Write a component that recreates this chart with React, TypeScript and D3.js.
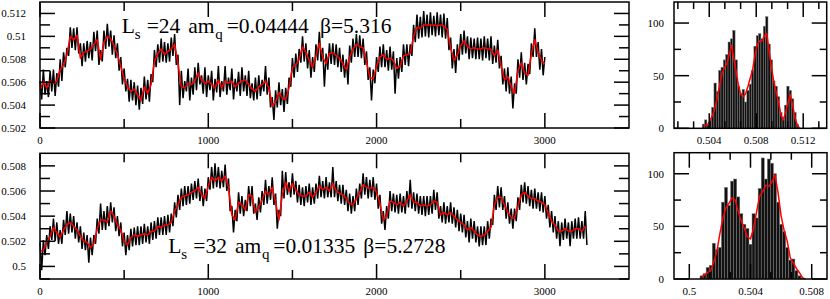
import React from "react";
import * as d3 from "d3";

// ---------- data ----------
// top run: Ls=24, Monte Carlo time step 10 (black) / 20 (red running average)
const topBlack = [
0.5061,0.5045,0.5071,0.5049,0.5061,0.5047,0.5070,0.5052,0.5071,0.5048,
0.5068,0.5056,0.5080,0.5061,0.5086,0.5073,0.5090,0.5083,0.5108,0.5090,
0.5107,0.5088,0.5108,0.5085,0.5094,0.5074,0.5094,0.5078,0.5096,0.5081,
0.5095,0.5079,0.5104,0.5087,0.5105,0.5075,0.5088,0.5078,0.5105,0.5089,
0.5111,0.5091,0.5105,0.5084,0.5101,0.5081,0.5094,0.5070,0.5082,0.5058,
0.5072,0.5052,0.5063,0.5043,0.5062,0.5044,0.5060,0.5040,0.5057,0.5036,
0.5055,0.5041,0.5065,0.5045,0.5062,0.5043,0.5067,0.5060,0.5088,0.5073,
0.5093,0.5077,0.5098,0.5078,0.5095,0.5077,0.5094,0.5078,0.5099,0.5083,
0.5102,0.5075,0.5084,0.5040,0.5070,0.5046,0.5061,0.5052,0.5072,0.5044,
0.5064,0.5049,0.5073,0.5053,0.5077,0.5058,0.5066,0.5050,0.5073,0.5047,
0.5066,0.5053,0.5070,0.5044,0.5063,0.5051,0.5074,0.5047,0.5061,0.5052,
0.5074,0.5049,0.5064,0.5053,0.5072,0.5045,0.5063,0.5052,0.5069,0.5048,
0.5073,0.5052,0.5066,0.5048,0.5070,0.5046,0.5059,0.5044,0.5064,0.5045,
0.5066,0.5048,0.5062,0.5052,0.5074,0.5049,0.5064,0.5038,0.5047,0.5027,
0.5053,0.5038,0.5060,0.5040,0.5054,0.5034,0.5055,0.5041,0.5064,0.5056,
0.5081,0.5064,0.5085,0.5069,0.5089,0.5077,0.5100,0.5078,0.5094,0.5072,
0.5088,0.5064,0.5082,0.5069,0.5093,0.5079,0.5104,0.5078,0.5090,0.5056,
0.5085,0.5071,0.5094,0.5076,0.5094,0.5075,0.5093,0.5073,0.5090,0.5069,
0.5084,0.5064,0.5080,0.5058,0.5092,0.5077,0.5098,0.5082,0.5102,0.5082,
0.5101,0.5081,0.5098,0.5075,0.5087,0.5062,0.5073,0.5044,0.5071,0.5059,
0.5082,0.5069,0.5091,0.5073,0.5093,0.5073,0.5088,0.5070,0.5091,0.5071,
0.5087,0.5050,0.5081,0.5063,0.5082,0.5069,0.5093,0.5075,0.5093,0.5074,
0.5093,0.5083,0.5110,0.5095,0.5119,0.5098,0.5117,0.5099,0.5122,0.5100,
0.5119,0.5099,0.5121,0.5101,0.5118,0.5100,0.5121,0.5101,0.5119,0.5099,
0.5120,0.5098,0.5116,0.5088,0.5099,0.5072,0.5089,0.5068,0.5093,0.5079,
0.5102,0.5084,0.5105,0.5085,0.5100,0.5080,0.5099,0.5081,0.5098,0.5080,
0.5099,0.5080,0.5098,0.5079,0.5100,0.5081,0.5098,0.5079,0.5100,0.5076,
0.5092,0.5077,0.5097,0.5072,0.5083,0.5058,0.5072,0.5052,0.5073,0.5050,
0.5065,0.5037,0.5059,0.5050,0.5080,0.5064,0.5086,0.5062,0.5077,0.5058,
0.5076,0.5067,0.5094,0.5082,0.5107,0.5082,0.5095,0.5071,0.5089,0.5066,
0.5082,
];
const topRed = [
0.5053,0.5061,0.5055,0.5061,0.5059,0.5061,0.5071,0.5075,0.5084,0.5100,
0.5097,0.5101,0.5081,0.5086,0.5087,0.5089,0.5093,0.5097,0.5080,0.5095,
0.5100,0.5098,0.5092,0.5084,0.5074,0.5063,0.5056,0.5052,0.5054,0.5049,
0.5044,0.5056,0.5050,0.5058,0.5078,0.5085,0.5089,0.5084,0.5087,0.5089,
0.5093,0.5076,0.5056,0.5055,0.5059,0.5058,0.5061,0.5068,0.5062,0.5059,
0.5061,0.5058,0.5055,0.5062,0.5055,0.5061,0.5059,0.5061,0.5056,0.5059,
0.5061,0.5062,0.5058,0.5054,0.5052,0.5056,0.5058,0.5061,0.5055,0.5039,
0.5043,0.5051,0.5046,0.5045,0.5055,0.5073,0.5075,0.5080,0.5091,0.5086,
0.5079,0.5073,0.5083,0.5094,0.5082,0.5076,0.5085,0.5086,0.5083,0.5081,
0.5076,0.5071,0.5082,0.5089,0.5093,0.5091,0.5090,0.5078,0.5064,0.5063,
0.5074,0.5082,0.5084,0.5080,0.5081,0.5079,0.5072,0.5074,0.5083,0.5084,
0.5085,0.5100,0.5108,0.5107,0.5110,0.5110,0.5110,0.5110,0.5109,0.5110,
0.5109,0.5106,0.5090,0.5079,0.5084,0.5092,0.5096,0.5091,0.5089,0.5090,
0.5089,0.5089,0.5090,0.5089,0.5089,0.5083,0.5088,0.5074,0.5062,0.5065,
0.5056,0.5050,0.5070,0.5077,0.5068,0.5066,0.5085,0.5097,0.5086,0.5079,
0.5076,
];

// bottom run: Ls=32
const botBlack = [
0.5019,0.4997,0.5021,0.5009,0.5025,0.5014,0.5032,0.5021,0.5038,0.5020,
0.5035,0.5018,0.5029,0.5018,0.5037,0.5025,0.5044,0.5026,0.5042,0.5027,
0.5040,0.5022,0.5035,0.5019,0.5032,0.5014,0.5027,0.5013,0.5025,0.5003,
0.5023,0.5009,0.5025,0.5018,0.5038,0.5026,0.5050,0.5029,0.5044,0.5029,
0.5048,0.5032,0.5051,0.5035,0.5047,0.5028,0.5040,0.5024,0.5035,0.5016,
0.5027,0.5009,0.5025,0.5013,0.5030,0.5016,0.5031,0.5017,0.5032,0.5017,
0.5032,0.5018,0.5034,0.5019,0.5032,0.5018,0.5035,0.5021,0.5036,0.5022,
0.5039,0.5025,0.5039,0.5025,0.5040,0.5025,0.5041,0.5027,0.5042,0.5032,
0.5051,0.5039,0.5057,0.5045,0.5062,0.5048,0.5064,0.5049,0.5064,0.5050,
0.5066,0.5053,0.5068,0.5054,0.5070,0.5052,0.5064,0.5048,0.5062,0.5052,
0.5071,0.5061,0.5079,0.5062,0.5082,0.5063,0.5079,0.5062,0.5076,0.5063,
0.5081,0.5060,0.5070,0.5044,0.5048,0.5027,0.5045,0.5036,0.5059,0.5042,
0.5056,0.5040,0.5053,0.5044,0.5064,0.5048,0.5064,0.5042,0.5050,0.5037,
0.5055,0.5043,0.5060,0.5049,0.5069,0.5050,0.5064,0.5053,0.5071,0.5049,
0.5058,0.5030,0.5045,0.5040,0.5076,0.5054,0.5075,0.5057,0.5067,0.5055,
0.5074,0.5057,0.5068,0.5051,0.5065,0.5049,0.5063,0.5048,0.5064,0.5051,
0.5066,0.5049,0.5063,0.5050,0.5066,0.5054,0.5072,0.5055,0.5068,0.5054,
0.5071,0.5055,0.5067,0.5055,0.5079,0.5055,0.5068,0.5052,0.5065,0.5050,
0.5065,0.5049,0.5061,0.5044,0.5058,0.5042,0.5056,0.5044,0.5062,0.5049,
0.5066,0.5054,0.5074,0.5057,0.5071,0.5054,0.5069,0.5055,0.5071,0.5053,
0.5066,0.5046,0.5057,0.5034,0.5044,0.5029,0.5048,0.5038,0.5060,0.5044,
0.5058,0.5043,0.5057,0.5042,0.5058,0.5043,0.5056,0.5042,0.5060,0.5047,
0.5069,0.5046,0.5059,0.5044,0.5058,0.5042,0.5056,0.5041,0.5056,0.5040,
0.5056,0.5041,0.5056,0.5042,0.5061,0.5045,0.5059,0.5038,0.5048,0.5035,
0.5051,0.5034,0.5048,0.5035,0.5051,0.5034,0.5047,0.5031,0.5045,0.5028,
0.5042,0.5027,0.5041,0.5023,0.5036,0.5019,0.5038,0.5022,0.5036,0.5019,
0.5032,0.5016,0.5032,0.5017,0.5032,0.5017,0.5036,0.5022,0.5038,0.5033,
0.5057,0.5045,0.5064,0.5047,0.5063,0.5045,0.5056,0.5038,0.5051,0.5034,
0.5046,0.5030,0.5046,0.5036,0.5055,0.5045,0.5065,0.5051,0.5067,0.5050,
0.5064,0.5048,0.5061,0.5046,0.5062,0.5046,0.5059,0.5044,0.5059,0.5043,
0.5056,0.5038,0.5049,0.5031,0.5044,0.5027,0.5040,0.5022,0.5036,0.5016,
0.5035,0.5021,0.5038,0.5022,0.5035,0.5016,0.5036,0.5022,0.5038,0.5022,
0.5039,0.5022,0.5036,0.5022,0.5044,0.5017,
];
const botRed = [
0.5012,0.5013,0.5019,0.5024,0.5031,0.5027,0.5023,0.5029,0.5033,0.5035,
0.5032,0.5029,0.5024,0.5020,0.5019,0.5015,0.5018,0.5030,0.5037,0.5037,
0.5035,0.5044,0.5040,0.5033,0.5029,0.5020,0.5017,0.5023,0.5025,0.5024,
0.5025,0.5026,0.5025,0.5028,0.5028,0.5032,0.5031,0.5033,0.5033,0.5035,
0.5044,0.5049,0.5055,0.5056,0.5057,0.5059,0.5060,0.5063,0.5057,0.5054,
0.5064,0.5071,0.5068,0.5071,0.5068,0.5072,0.5063,0.5041,0.5037,0.5051,
0.5049,0.5045,0.5057,0.5056,0.5043,0.5047,0.5053,0.5060,0.5057,0.5063,
0.5051,0.5037,0.5057,0.5067,0.5060,0.5066,0.5061,0.5057,0.5056,0.5056,
0.5059,0.5055,0.5059,0.5064,0.5061,0.5063,0.5060,0.5066,0.5060,0.5058,
0.5057,0.5054,0.5050,0.5049,0.5054,0.5059,0.5065,0.5063,0.5062,0.5063,
0.5059,0.5050,0.5037,0.5040,0.5052,0.5051,0.5049,0.5051,0.5048,0.5052,
0.5057,0.5051,0.5051,0.5048,0.5049,0.5048,0.5049,0.5052,0.5051,0.5041,
0.5043,0.5041,0.5043,0.5040,0.5037,0.5035,0.5033,0.5029,0.5031,0.5028,
0.5025,0.5024,0.5025,0.5028,0.5031,0.5049,0.5055,0.5055,0.5049,0.5043,
0.5039,0.5038,0.5048,0.5057,0.5059,0.5056,0.5054,0.5054,0.5052,0.5051,
0.5049,0.5042,0.5036,0.5033,0.5028,0.5028,0.5030,0.5028,0.5028,0.5030,
0.5030,0.5028,0.5032,
];
const blackStep = 10;
const redStep = 20;

// histograms (bin width 0.0002)
const binWidth = 0.0002;
const topHistFirstCenter = 0.5035;
const topHistCounts = [4,8,3,9,20,43,35,55,58,65,70,82,85,93,65,40,33,37,25,36,42,55,78,88,90,85,97,106,80,65,45,40,30,15,8,22,40,36,28,15,4];
const topHistFit = [2,3,4,8,13,20,30,42,52,58,61,70,79,66,53,40,32,30,33,40,48,56,70,80,83,83,88,90,73,58,44,34,25,13,8,15,24,32,22,10,3,0];
const botHistFirstCenter = 0.5008;
const botHistCounts = [3,5,11,13,34,28,30,73,87,70,93,95,78,62,52,48,33,62,58,86,115,95,114,110,100,73,52,45,30,18,19,8,3,1];
const botHistFit = [2,4,6,8,16,26,43,58,68,72,77,75,64,55,48,40,38,48,64,79,83,89,88,92,99,82,60,46,36,20,15,10,6,1,0];

// axis ticks
const tsXMajor = [0, 1000, 2000, 3000];
const tsXMinor = [500, 1500, 2500];
const topYMajor = [0.502, 0.504, 0.506, 0.508, 0.51, 0.512];
const topYMinor = [0.503, 0.505, 0.507, 0.509, 0.511];
const botYMajor = [0.5, 0.502, 0.504, 0.506, 0.508];
const botYMinor = [0.499, 0.501, 0.503, 0.505, 0.507];
const histYMajor = [0, 50, 100];
const histYMinor = [25, 75];
const topHistXMajor = [0.504, 0.508, 0.512];
const topHistXMinor = [0.50133, 0.50267, 0.50533, 0.50667, 0.50933, 0.51067, 0.51333];
const botHistXMajor = [0.5, 0.504, 0.508];
const botHistXMinor = [0.50133, 0.50267, 0.50533, 0.50667];

const FONT = "Liberation Serif, Times New Roman, Times, serif";
const fmt = (v: number) => String(+v.toFixed(4));

type Sc = d3.ScaleLinear<number, number>;

function Frame(props: {
  x: Sc; y: Sc;
  xMajor: number[]; xMinor: number[]; yMajor: number[]; yMinor: number[];
  xMajLen: number; xMinLen: number; yMajLen: number; yMinLen: number;
  yLabGap: number;
}) {
  const { x, y } = props;
  const [x0, x1] = x.range();
  const [yb, yt] = y.range();
  const els: React.ReactNode[] = [];
  const tstyle = { fontFamily: FONT, fontSize: 11 };
  props.xMajor.forEach((v, i) => {
    const px = x(v);
    els.push(<line key={"xM" + i} x1={px} x2={px} y1={yb} y2={yb - props.xMajLen} />);
    els.push(<line key={"xMt" + i} x1={px} x2={px} y1={yt} y2={yt + props.xMajLen} />);
    els.push(
      <text key={"xl" + i} x={px} y={yb + 16} textAnchor="middle" style={tstyle} stroke="none" fill="#000">
        {fmt(v)}
      </text>
    );
  });
  props.xMinor.forEach((v, i) => {
    const px = x(v);
    els.push(<line key={"xm" + i} x1={px} x2={px} y1={yb} y2={yb - props.xMinLen} />);
    els.push(<line key={"xmt" + i} x1={px} x2={px} y1={yt} y2={yt + props.xMinLen} />);
  });
  props.yMajor.forEach((v, i) => {
    const py = y(v);
    els.push(<line key={"yM" + i} x1={x0} x2={x0 + props.yMajLen} y1={py} y2={py} />);
    els.push(<line key={"yMr" + i} x1={x1} x2={x1 - props.yMajLen} y1={py} y2={py} />);
    els.push(
      <text key={"yl" + i} x={x0 - props.yLabGap} y={py + 4} textAnchor="end" style={tstyle} stroke="none" fill="#000">
        {fmt(v)}
      </text>
    );
  });
  props.yMinor.forEach((v, i) => {
    const py = y(v);
    els.push(<line key={"ym" + i} x1={x0} x2={x0 + props.yMinLen} y1={py} y2={py} />);
    els.push(<line key={"ymr" + i} x1={x1} x2={x1 - props.yMinLen} y1={py} y2={py} />);
  });
  return (
    <g stroke="#000" strokeWidth={1.5} fill="none">
      {els}
      <rect x={x0} y={yt} width={x1 - x0} height={yb - yt} />
    </g>
  );
}

function TimePanel(props: { x: Sc; y: Sc; black: number[]; red: number[]; yMajor: number[]; yMinor: number[] }) {
  const { x, y } = props;
  const lb = d3.line<number>().x((_, i) => x(i * blackStep)).y((d) => y(d));
  const lr = d3.line<number>().x((_, i) => x(i * redStep)).y((d) => y(d));
  return (
    <g>
      <path d={lb(props.black) || ""} fill="none" stroke="#000" strokeWidth={1.5} strokeLinejoin="miter" />
      <path d={lr(props.red) || ""} fill="none" stroke="#ff0000" strokeWidth={1.5} strokeLinejoin="round" />
      <Frame x={x} y={y} xMajor={tsXMajor} xMinor={tsXMinor} yMajor={props.yMajor} yMinor={props.yMinor}
        xMajLen={15} xMinLen={9} yMajLen={15} yMinLen={10} yLabGap={14} />
    </g>
  );
}

function HistPanel(props: { x: Sc; y: Sc; first: number; counts: number[]; fit: number[]; xMajor: number[]; xMinor: number[] }) {
  const { x, y } = props;
  const centers = props.counts.map((_, i) => props.first + i * binWidth);
  const lf = d3.line<number>().x((_, i) => x(props.first + i * binWidth)).y((d) => y(d));
  return (
    <g>
      {props.counts.map((c, i) => {
        const a = x(centers[i] - binWidth / 2);
        const b = x(centers[i] + binWidth / 2);
        return <rect key={i} x={a} y={y(c)} width={b - a} height={y(0) - y(c)} fill="#111" stroke="#7a7a7a" strokeWidth={0.5} />;
      })}
      <path d={lf(props.fit) || ""} fill="none" stroke="#ff0000" strokeWidth={1.5} strokeLinejoin="round" />
      <Frame x={x} y={y} xMajor={props.xMajor} xMinor={props.xMinor} yMajor={histYMajor} yMinor={histYMinor}
        xMajLen={15} xMinLen={7} yMajLen={15} yMinLen={7} yLabGap={10} />
    </g>
  );
}

function Label(props: { xs: number[]; y: number; ls: string; amq: string; beta: string }) {
  const st = { fontFamily: FONT, fontSize: 21.5 };
  const sub = { fontFamily: FONT, fontSize: 15 };
  return (
    <g fill="#000">
      <text x={props.xs[0]} y={props.y} style={st}>L</text>
      <text x={props.xs[0] + 13} y={props.y + 6} style={sub}>s</text>
      <text x={props.xs[1]} y={props.y} style={st}>={props.ls}</text>
      <text x={props.xs[2]} y={props.y} style={st}>am</text>
      <text x={props.xs[2] + 27} y={props.y + 6} style={sub}>q</text>
      <text x={props.xs[3]} y={props.y} style={st}>={props.amq}</text>
      <text x={props.xs[4]} y={props.y} style={st}>β={props.beta}</text>
    </g>
  );
}

export default function App() {
  const xTS = d3.scaleLinear().domain([0, 3500]).range([40, 629]);
  const yTop = d3.scaleLinear().domain([0.502, 0.513]).range([128, 2]);
  const yBot = d3.scaleLinear().domain([0.499, 0.509]).range([279, 153.3]);
  const hxTop = d3.scaleLinear().domain([0.501, 0.514]).range([674, 826.7]);
  const hxBot = d3.scaleLinear().domain([0.499, 0.509]).range([674, 827]);
  const hyTop = d3.scaleLinear().domain([0, 120]).range([128.3, 2]);
  const hyBot = d3.scaleLinear().domain([0, 120]).range([279, 152.7]);
  return (
    <svg width={830} height={299} style={{ position: "absolute", left: 0, top: 0, background: "#fff" }}>
      <TimePanel x={xTS} y={yTop} black={topBlack} red={topRed} yMajor={topYMajor} yMinor={topYMinor} />
      <TimePanel x={xTS} y={yBot} black={botBlack} red={botRed} yMajor={botYMajor} yMinor={botYMinor} />
      <HistPanel x={hxTop} y={hyTop} first={topHistFirstCenter} counts={topHistCounts} fit={topHistFit} xMajor={topHistXMajor} xMinor={topHistXMinor} />
      <HistPanel x={hxBot} y={hyBot} first={botHistFirstCenter} counts={botHistCounts} fit={botHistFit} xMajor={botHistXMajor} xMinor={botHistXMinor} />
      <Label xs={[121.7, 146.7, 188.3, 226.7, 320]} y={33} ls="24" amq="0.04444" beta="5.316" />
      <Label xs={[168.3, 193.3, 235, 273.3, 363.3]} y={253} ls="32" amq="0.01335" beta="5.2728" />
    </svg>
  );
}
